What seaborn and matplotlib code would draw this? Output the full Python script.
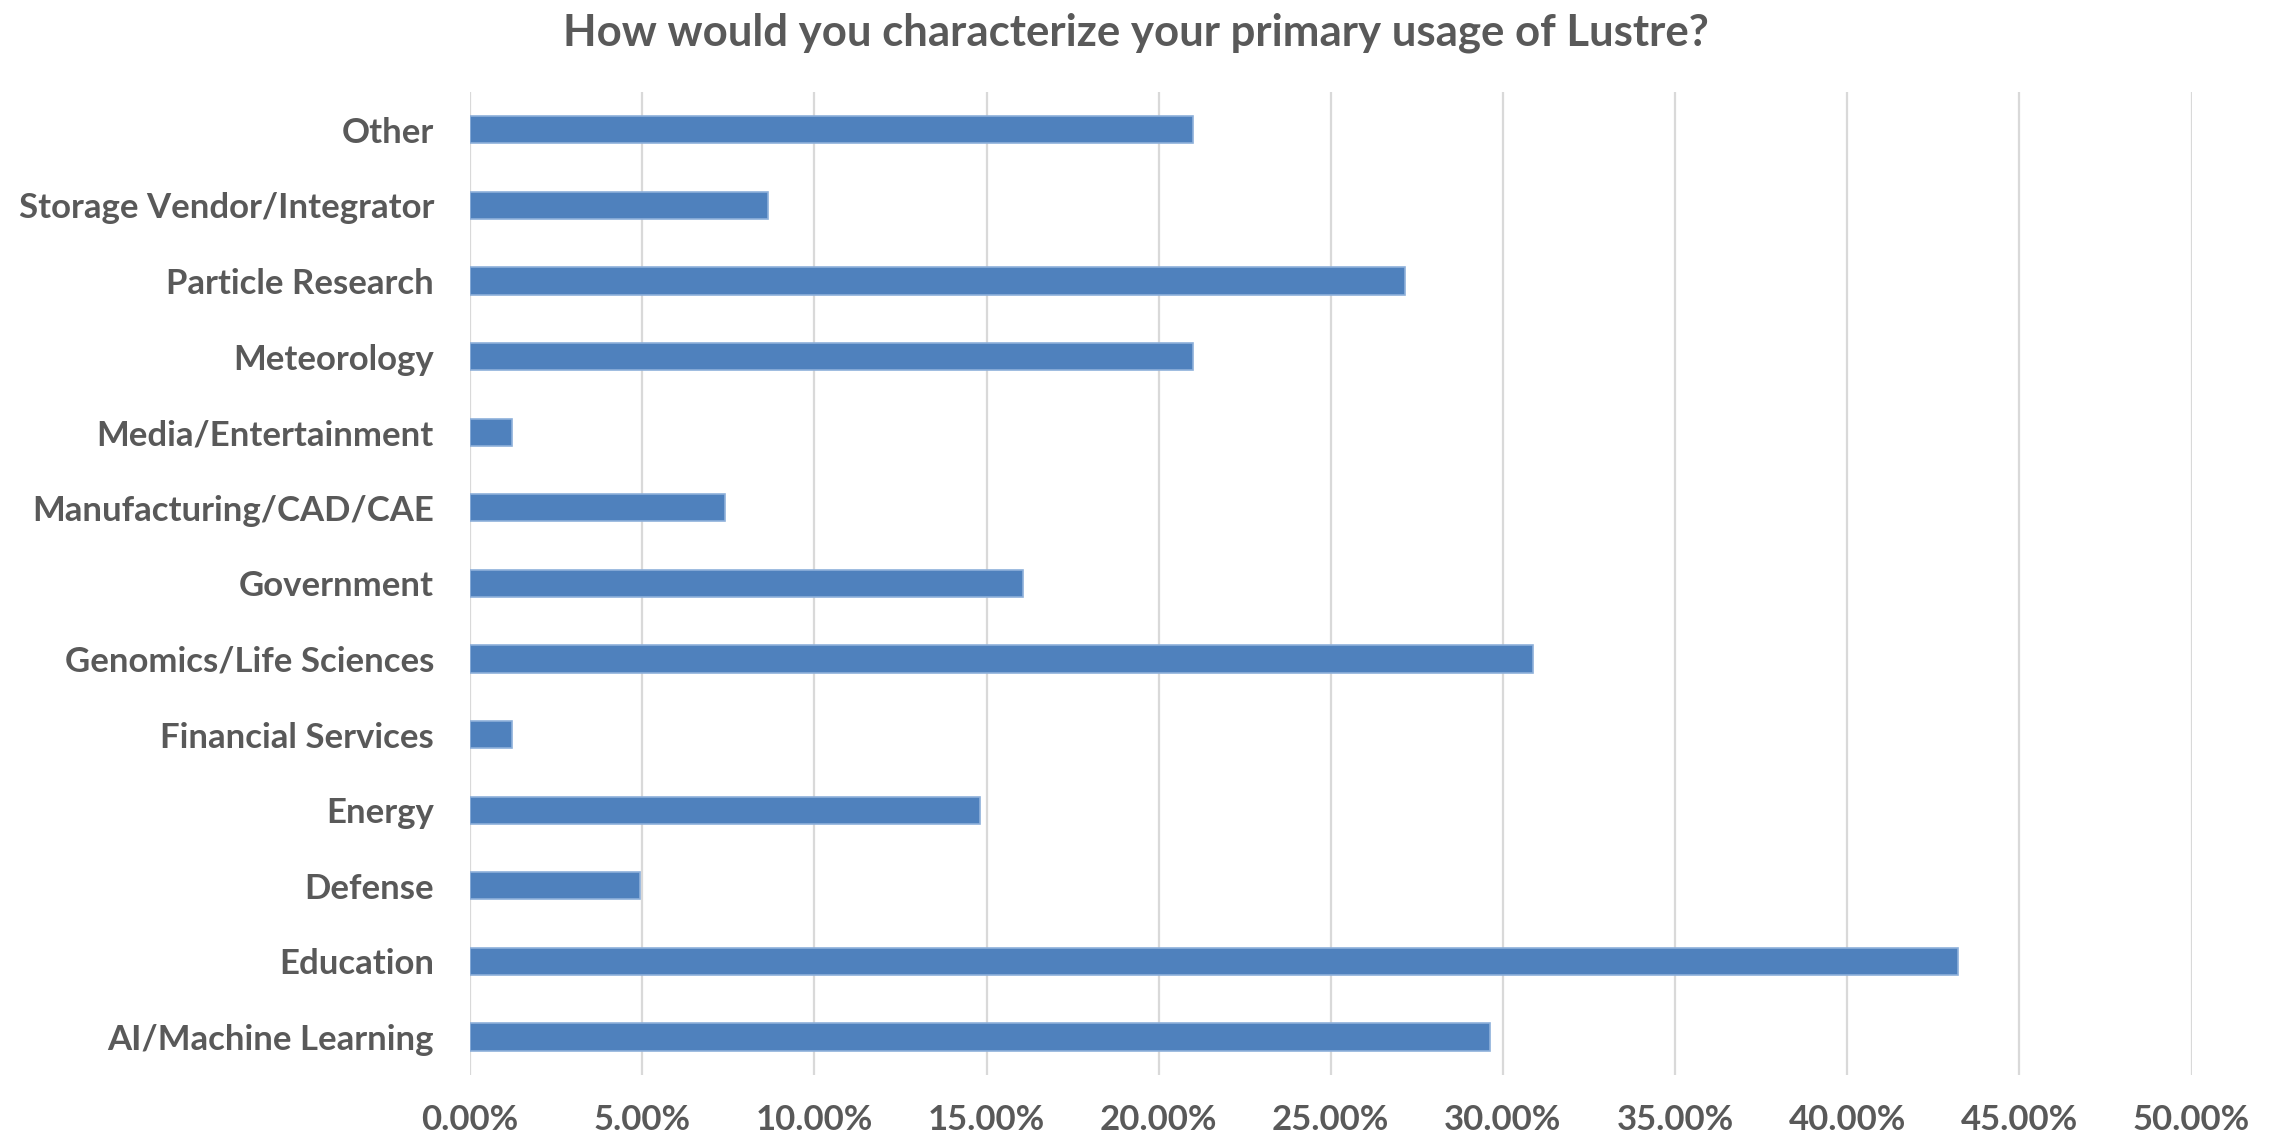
import matplotlib
matplotlib.use("Agg")
import matplotlib.pyplot as plt
import seaborn as sns
import pandas as pd
from matplotlib.ticker import FuncFormatter

categories = ["Other", "Storage Vendor/Integrator", "Particle Research", "Meteorology",
              "Media/Entertainment", "Manufacturing/CAD/CAE", "Government",
              "Genomics/Life Sciences", "Financial Services", "Energy", "Defense",
              "Education", "AI/Machine Learning"]
values = [20.99, 8.64, 27.16, 20.99, 1.23, 7.41, 16.05, 30.86, 1.23, 14.81, 4.94, 43.21, 29.63]
x_ticks = [0, 5, 10, 15, 20, 25, 30, 35, 40, 45, 50]
title = "How would you characterize your primary usage of Lustre?"

df = pd.DataFrame({"category": categories, "value": values})

sns.set_theme(style="white")
plt.rcParams['font.family'] = ['Lato', 'DejaVu Sans']

fig = plt.figure(figsize=(22.71, 11.35), dpi=100)
ax = fig.add_axes([0.207, 0.053, 0.965 - 0.207, 0.919 - 0.053])

sns.barplot(data=df, y="category", x="value", order=categories, orient="h",
            color="#4F81BD", saturation=1, width=0.36, ax=ax,
            edgecolor="#8EB0DA", linewidth=1.2, zorder=3)

ax.set_xlim(0, 50)
ax.set_ylim(len(categories) - 0.5, -0.5)
ax.set_xticks(x_ticks)
ax.xaxis.set_major_formatter(FuncFormatter(lambda v, p: f"{v:.2f}%"))
ax.grid(axis="x", color="#D9D9D9", linewidth=1.6, zorder=0)
ax.grid(axis="y", visible=False)
for s in ax.spines.values():
    s.set_visible(False)
ax.set_xlabel("")
ax.set_ylabel("")
ax.tick_params(axis="x", length=0, pad=21, labelsize=25, labelcolor="#595959")
ax.tick_params(axis="y", length=0, pad=26, labelsize=25, labelcolor="#595959")
for lab in ax.get_xticklabels() + ax.get_yticklabels():
    lab.set_fontweight("bold")

fig.text(0.5, 0.971, title, ha="center", va="center", fontsize=31.5,
         fontweight="bold", color="#595959")

fig.savefig("out.png", dpi=100, facecolor="white")
